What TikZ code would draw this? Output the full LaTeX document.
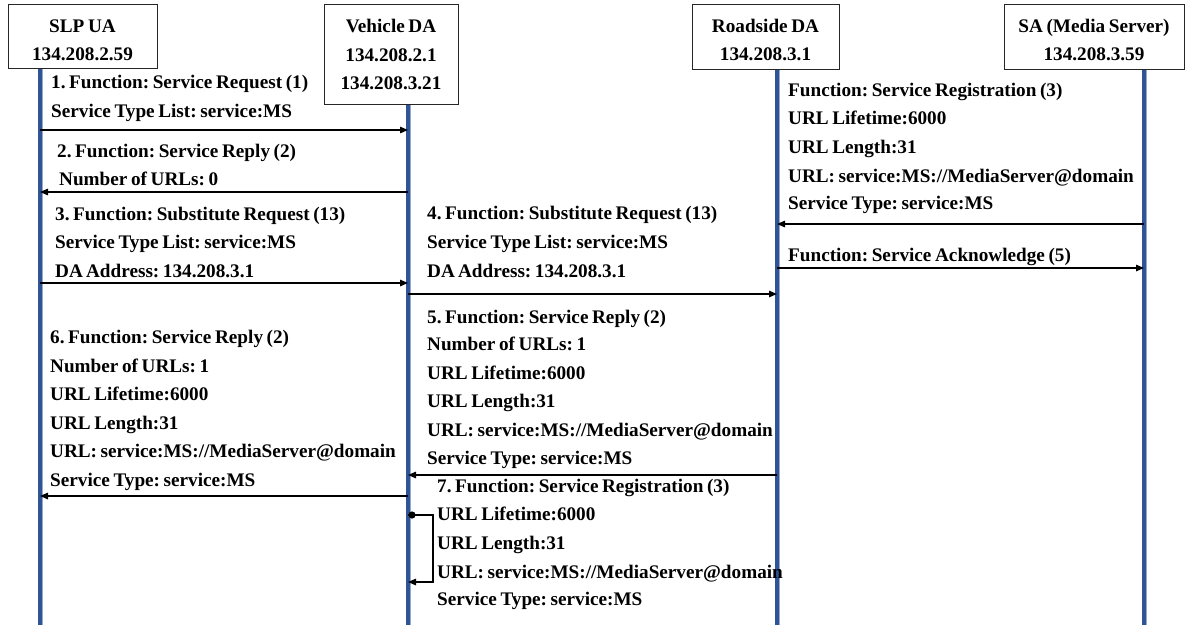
\documentclass[tikz,border=0pt]{standalone}
\usepackage{fontspec}
\setmainfont{Liberation Serif}[WordSpace=0.75]
\usetikzlibrary{arrows.meta}
\definecolor{lifeblue}{RGB}{47,85,151}
\definecolor{lifeedge}{RGB}{150,170,205}
\frenchspacing
\begin{document}
\begin{tikzpicture}[x=1pt,y=-1pt,
  every node/.style={font=\fontsize{19.2}{22}\selectfont\bfseries, inner sep=0pt},
  box/.style={draw=black!85, line width=1pt, fill=white},
  txt/.style={anchor=base west},
  ttl/.style={anchor=base},
  msg/.style={line width=1.4pt, -{Triangle[length=8pt,width=6.5pt]}},
  lifeedgest/.style={line width=5pt, lifeedge},
  lifest/.style={line width=3.2pt, lifeblue}]
\useasboundingbox (0,0) rectangle (1185,625);
% lifeline coordinates
\coordinate (l1) at (40,68);  \coordinate (l1b) at (40,625);
\coordinate (l2) at (408,104); \coordinate (l2b) at (408,625);
\coordinate (l3) at (777,69);  \coordinate (l3b) at (777,625);
\coordinate (l4) at (1144,69); \coordinate (l4b) at (1144,625);
\foreach \a/\b in {l1/l1b,l2/l2b,l3/l3b,l4/l4b}{
  \draw[lifeedgest] (\a) -- (\b);
  \draw[lifest] (\a) -- (\b);
}
% boxes
\node[box, minimum width=149, minimum height=64] (slp) at (82.5,36) {};
\node[box, minimum width=134, minimum height=100] (veh) at (391,54) {};
\node[box, minimum width=147, minimum height=65] (road) at (765.5,36.5) {};
\node[box, minimum width=180, minimum height=65] (sa) at (1094,36.5) {};
\node[ttl] (slp1) at (82.5,32) {SLP UA};
\node[ttl] (slp2) at (82.5,60) {134.208.2.59};
\node[ttl] (veh1) at (391,32) {Vehicle DA};
\node[ttl] (veh2) at (391,61) {134.208.2.1};
\node[ttl] (veh3) at (391,89) {134.208.3.21};
\node[ttl] (road1) at (765.5,32) {Roadside DA};
\node[ttl] (road2) at (765.5,60) {134.208.3.1};
\node[ttl] (sa1) at (1094,32) {SA (Media Server)};
\node[ttl] (sa2) at (1094,60) {134.208.3.59};
% message 1
\node[txt] (m1a) at (51,88) {1. Function: Service Request (1)};
\node[txt] (m1b) at (51,117) {Service Type List: service:MS};
\draw[msg] (l1 |- 0,130) -- (l2 |- 0,130);
% message 2
\node[txt] (m2a) at (57,157) {2. Function: Service Reply (2)};
\node[txt] (m2b) at (59,185) {Number of URLs: 0};
\draw[msg] (l2 |- 0,192) -- (l1 |- 0,192);
% message 3
\node[txt] (m3a) at (55,220) {3. Function: Substitute Request (13)};
\node[txt] (m3b) at (55,248) {Service Type List: service:MS};
\node[txt] (m3c) at (55,277) {DA\,Address: 134.208.3.1};
\draw[msg] (l1 |- 0,283) -- (l2 |- 0,283);
% message 4
\node[txt] (m4a) at (427,219) {4. Function: Substitute Request (13)};
\node[txt] (m4b) at (427,248) {Service Type List: service:MS};
\node[txt] (m4c) at (427,277) {DA\,Address: 134.208.3.1};
\draw[msg] (l2 |- 0,294) -- (l3 |- 0,294);
% registration SA -> Roadside
\node[txt] (r1) at (788,96) {Function: Service Registration (3)};
\node[txt] (r2) at (788,124) {URL Lifetime:6000};
\node[txt] (r3) at (788,153) {URL Length:31};
\node[txt] (r4) at (788,182) {URL: service:MS://MediaServer@domain};
\node[txt] (r5) at (788,209) {Service Type: service:MS};
\draw[msg] (l4 |- 0,224) -- (l3 |- 0,224);
% acknowledge
\node[txt] (ack) at (788,261) {Function: Service Acknowledge (5)};
\draw[msg] (l3 |- 0,268) -- (l4 |- 0,268);
% message 5
\node[txt] (m5a) at (427,323) {5. Function: Service Reply (2)};
\node[txt] (m5b) at (427,350) {Number of URLs: 1};
\node[txt] (m5c) at (427,379) {URL Lifetime:6000};
\node[txt] (m5d) at (427,407) {URL Length:31};
\node[txt] (m5e) at (427,436) {URL: service:MS://MediaServer@domain};
\node[txt] (m5f) at (427,464) {Service Type: service:MS};
\draw[msg] (l3 |- 0,475) -- (l2 |- 0,475);
% message 6
\node[txt] (m6a) at (50,343) {6. Function: Service Reply (2)};
\node[txt] (m6b) at (50,372) {Number of URLs: 1};
\node[txt] (m6c) at (50,400) {URL Lifetime:6000};
\node[txt] (m6d) at (50,429) {URL Length:31};
\node[txt] (m6e) at (50,457) {URL: service:MS://MediaServer@domain};
\node[txt] (m6f) at (50,486) {Service Type: service:MS};
\draw[msg] (l2 |- 0,496) -- (l1 |- 0,496);
% message 7 (self)
\node[txt] (m7a) at (437,492) {7. Function: Service Registration (3)};
\node[txt] (m7b) at (437,520) {URL Lifetime:6000};
\node[txt] (m7c) at (437,549) {URL Length:31};
\node[txt] (m7d) at (437,578) {URL: service:MS://MediaServer@domain};
\node[txt] (m7e) at (437,605) {Service Type: service:MS};
\coordinate (s1) at (l2 |- 0,515);
\coordinate (s2) at (l2 |- 0,582);
\fill (412,515) circle (3.6);
\draw[msg] (s1) -- (433,515) -- (433,582) -- (s2);
\end{tikzpicture}
\end{document}
